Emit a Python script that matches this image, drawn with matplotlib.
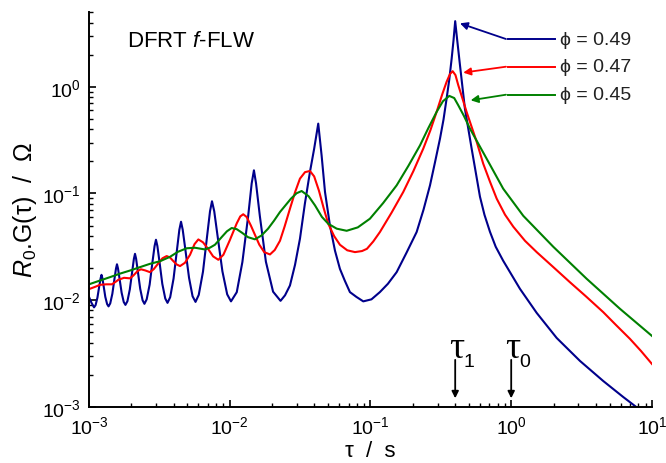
import numpy as np
import matplotlib
matplotlib.use('Agg')
import matplotlib.pyplot as plt
from matplotlib.ticker import LogLocator, NullFormatter

plt.rcParams['font.family'] = ['Liberation Sans', 'DejaVu Sans']
plt.rcParams['mathtext.fontset'] = 'custom'
plt.rcParams['mathtext.rm'] = 'Liberation Sans'
plt.rcParams['mathtext.it'] = 'Liberation Sans:italic'
plt.rcParams['mathtext.bf'] = 'Liberation Sans:bold'

# curves stored as log10(tau / s) and log10(R0.G / Ohm)
lg_tau_49 = [-3.000, -2.982, -2.964, -2.953, -2.940, -2.927, -2.917, -2.911, -2.905, -2.896,
             -2.884, -2.871, -2.861, -2.849, -2.834, -2.819, -2.808, -2.801, -2.794, -2.783,
             -2.768, -2.753, -2.741, -2.727, -2.710, -2.693, -2.681, -2.673, -2.665, -2.653,
             -2.636, -2.619, -2.606, -2.590, -2.569, -2.549, -2.534, -2.524, -2.514, -2.499,
             -2.479, -2.458, -2.442, -2.423, -2.399, -2.375, -2.358, -2.346, -2.334, -2.315,
             -2.289, -2.264, -2.243, -2.220, -2.190, -2.161, -2.140, -2.126, -2.110, -2.086,
             -2.052, -2.018, -1.991, -1.950, -1.910, -1.869, -1.844, -1.828, -1.813, -1.786,
             -1.743, -1.692, -1.639, -1.607, -1.572, -1.536, -1.501, -1.466, -1.430, -1.400,
             -1.371, -1.347, -1.323, -1.288, -1.252, -1.217, -1.182, -1.146, -1.100, -1.051,
             -0.993, -0.933, -0.876, -0.814, -0.744, -0.672, -0.623, -0.577, -0.542, -0.506,
             -0.481, -0.459, -0.440, -0.423, -0.410, -0.398, -0.385, -0.364, -0.329, -0.281,
             -0.222, -0.190, -0.151, -0.110, -0.057, 0.062, 0.181, 0.323, 0.489, 0.654,
             0.796, 0.886, 1.000]
lg_g_49 = [-1.970, -2.026, -2.068, -2.047, -1.977, -1.870, -1.794, -1.763, -1.793, -1.867,
           -1.970, -2.038, -2.059, -2.031, -1.941, -1.802, -1.704, -1.664, -1.702, -1.797,
           -1.931, -2.018, -2.045, -2.011, -1.901, -1.734, -1.614, -1.566, -1.613, -1.730,
           -1.894, -2.002, -2.035, -1.993, -1.855, -1.644, -1.494, -1.434, -1.493, -1.641,
           -1.848, -1.985, -2.026, -1.973, -1.798, -1.531, -1.341, -1.265, -1.340, -1.528,
           -1.791, -1.964, -2.017, -1.951, -1.734, -1.403, -1.167, -1.073, -1.167, -1.402,
           -1.730, -1.946, -2.012, -1.926, -1.643, -1.213, -0.906, -0.783, -0.905, -1.211,
           -1.640, -1.921, -2.007, -1.955, -1.863, -1.669, -1.425, -1.096, -0.798, -0.580,
           -0.345, -0.645, -0.986, -1.300, -1.537, -1.707, -1.819, -1.925, -1.970, -2.012,
           -1.993, -1.925, -1.847, -1.738, -1.556, -1.362, -1.152, -0.924, -0.711, -0.486,
           -0.307, -0.110, 0.069, 0.266, 0.435, 0.616, 0.454, 0.203, -0.204, -0.580,
           -1.030, -1.200, -1.359, -1.500, -1.631, -1.894, -2.120, -2.355, -2.571, -2.759,
           -2.909, -3.000, -3.111]

lg_tau_47 = [-3.000, -2.957, -2.922, -2.879, -2.837, -2.810, -2.792, -2.751, -2.709, -2.685,
             -2.655, -2.631, -2.600, -2.567, -2.540, -2.510, -2.478, -2.448, -2.425, -2.403,
             -2.378, -2.353, -2.318, -2.282, -2.250, -2.223, -2.190, -2.154, -2.118, -2.081,
             -2.045, -2.000, -1.950, -1.925, -1.904, -1.880, -1.850, -1.821, -1.790, -1.755,
             -1.714, -1.680, -1.643, -1.610, -1.572, -1.535, -1.501, -1.465, -1.430, -1.400,
             -1.366, -1.333, -1.300, -1.258, -1.217, -1.165, -1.110, -1.060, -1.025, -0.980,
             -0.933, -0.850, -0.767, -0.695, -0.625, -0.575, -0.530, -0.490, -0.459, -0.435,
             -0.416, -0.396, -0.376, -0.345, -0.317, -0.280, -0.245, -0.199, -0.151, -0.103,
             -0.044, 0.015, 0.098, 0.181, 0.297, 0.417, 0.531, 0.654, 0.744, 0.844,
             0.922, 1.000]
lg_g_47 = [-1.897, -1.876, -1.857, -1.852, -1.852, -1.828, -1.810, -1.791, -1.796, -1.770,
           -1.728, -1.711, -1.722, -1.738, -1.710, -1.660, -1.608, -1.587, -1.600, -1.631,
           -1.665, -1.681, -1.650, -1.575, -1.475, -1.431, -1.458, -1.519, -1.590, -1.622,
           -1.575, -1.440, -1.280, -1.215, -1.195, -1.220, -1.300, -1.387, -1.480, -1.550,
           -1.572, -1.530, -1.444, -1.310, -1.143, -0.985, -0.861, -0.800, -0.789, -0.840,
           -0.974, -1.135, -1.284, -1.400, -1.481, -1.533, -1.550, -1.540, -1.519, -1.450,
           -1.362, -1.180, -0.986, -0.790, -0.580, -0.410, -0.235, -0.070, 0.047, 0.120,
           0.147, 0.110, 0.015, -0.115, -0.235, -0.380, -0.517, -0.720, -0.889, -1.049,
           -1.199, -1.312, -1.444, -1.550, -1.688, -1.832, -1.965, -2.113, -2.233, -2.364,
           -2.477, -2.599]

lg_tau_45 = [-3.000, -2.925, -2.851, -2.780, -2.709, -2.640, -2.567, -2.496, -2.424, -2.368,
             -2.306, -2.247, -2.176, -2.140, -2.105, -2.055, -2.020, -1.986, -1.950, -1.913,
             -1.870, -1.821, -1.775, -1.728, -1.685, -1.643, -1.565, -1.525, -1.489, -1.440,
             -1.394, -1.345, -1.300, -1.240, -1.169, -1.090, -1.004, -0.910, -0.814, -0.730,
             -0.648, -0.590, -0.530, -0.485, -0.440, -0.405, -0.376, -0.335, -0.293, -0.222,
             -0.151, -0.057, 0.086, 0.299, 0.536, 0.773, 1.000]
lg_g_45 = [-1.852, -1.818, -1.785, -1.752, -1.723, -1.692, -1.660, -1.636, -1.594, -1.547,
           -1.514, -1.509, -1.525, -1.508, -1.481, -1.406, -1.355, -1.324, -1.335, -1.368,
           -1.410, -1.430, -1.395, -1.331, -1.255, -1.174, -1.049, -0.998, -0.977, -1.025,
           -1.112, -1.220, -1.284, -1.330, -1.350, -1.318, -1.237, -1.090, -0.924, -0.740,
           -0.549, -0.390, -0.235, -0.135, -0.085, -0.105, -0.173, -0.275, -0.392, -0.561,
           -0.730, -0.955, -1.210, -1.500, -1.800, -2.082, -2.336]

phi_labels = ['ϕ = 0.49', 'ϕ = 0.47', 'ϕ = 0.45']
colors = ['#00008b', '#ff0000', '#008000']
# where the legend arrows land on each peak
arrow_tau = [0.4325, 0.456, 0.515]
arrow_g = [3.94, 1.36, 0.748]
tau_1 = 0.4
tau_0 = 1.0

curves = [(lg_tau_49, lg_g_49), (lg_tau_47, lg_g_47), (lg_tau_45, lg_g_45)]

fig = plt.figure(figsize=(6.66, 4.64), dpi=100)
ax = fig.add_axes([0.1336, 0.1213, 0.8453, 0.850])

for (lt, lg), c in zip(curves, colors):
    ax.plot(10 ** np.array(lt), 10 ** np.array(lg), color=c, lw=1.5,
            solid_joinstyle='round')

ax.set_xscale('log')
ax.set_yscale('log')
ax.set_xlim(1e-3, 1e1)
ax.set_ylim(1e-3, 5)

for s in ['top', 'right']:
    ax.spines[s].set_visible(False)
for s in ['left', 'bottom']:
    ax.spines[s].set_linewidth(1.4)

ax.xaxis.set_major_locator(LogLocator(base=10, numticks=10))
ax.yaxis.set_major_locator(LogLocator(base=10, numticks=10))
ax.xaxis.set_minor_locator(LogLocator(base=10, subs=np.arange(2, 10), numticks=20))
ax.yaxis.set_minor_locator(LogLocator(base=10, subs=np.arange(2, 10), numticks=20))
ax.xaxis.set_minor_formatter(NullFormatter())
ax.yaxis.set_minor_formatter(NullFormatter())
ax.tick_params(which='major', direction='in', length=5, width=1.2, labelsize=14, pad=6)
ax.tick_params(which='minor', direction='in', length=2.8, width=1.0)

ax.set_xlabel('τ  /  s', fontsize=16, labelpad=2)
ax.set_ylabel(r'$R_0$.G(τ)  /  Ω', fontsize=18)
ax.yaxis.set_label_coords(-0.088, 0.5)

ax.text(0.068, 0.955, r'DFRT $f$-FLW', transform=ax.transAxes, fontsize=16, va='top')

# legend: short line, label and an arrow pointing to each peak
leg_y = [0.9323, 0.8621, 0.7911]
for lab, c, y, at, ag in zip(phi_labels, colors, leg_y, arrow_tau, arrow_g):
    ax.plot([0.7448, 0.8277], [y, y], color=c, lw=1.4, transform=ax.transAxes, clip_on=False)
    ax.text(0.8366, y, lab, color='#222222', fontsize=14, va='center', transform=ax.transAxes)
    ax.annotate('', xy=(at, ag), xycoords='data', xytext=(0.7407, y), textcoords='axes fraction',
                arrowprops=dict(arrowstyle='-|>', color=c, lw=1.3, mutation_scale=11,
                                shrinkA=0, shrinkB=0))

for t, sub in [(tau_1, '1'), (tau_0, '0')]:
    ax.annotate('', xy=(t, 1.2e-3), xytext=(t, 2.75e-3),
                arrowprops=dict(arrowstyle='-|>', color='black', lw=1.3, mutation_scale=10,
                                shrinkA=0, shrinkB=0))
    ax.text(t * 1.03, 2.91e-3, 'τ', family='Liberation Serif', fontsize=27,
            ha='center', va='baseline')
    ax.text(t * 1.25, 2.4e-3, sub, fontsize=14, ha='center', va='baseline')

fig.savefig('out.png', dpi=100)
